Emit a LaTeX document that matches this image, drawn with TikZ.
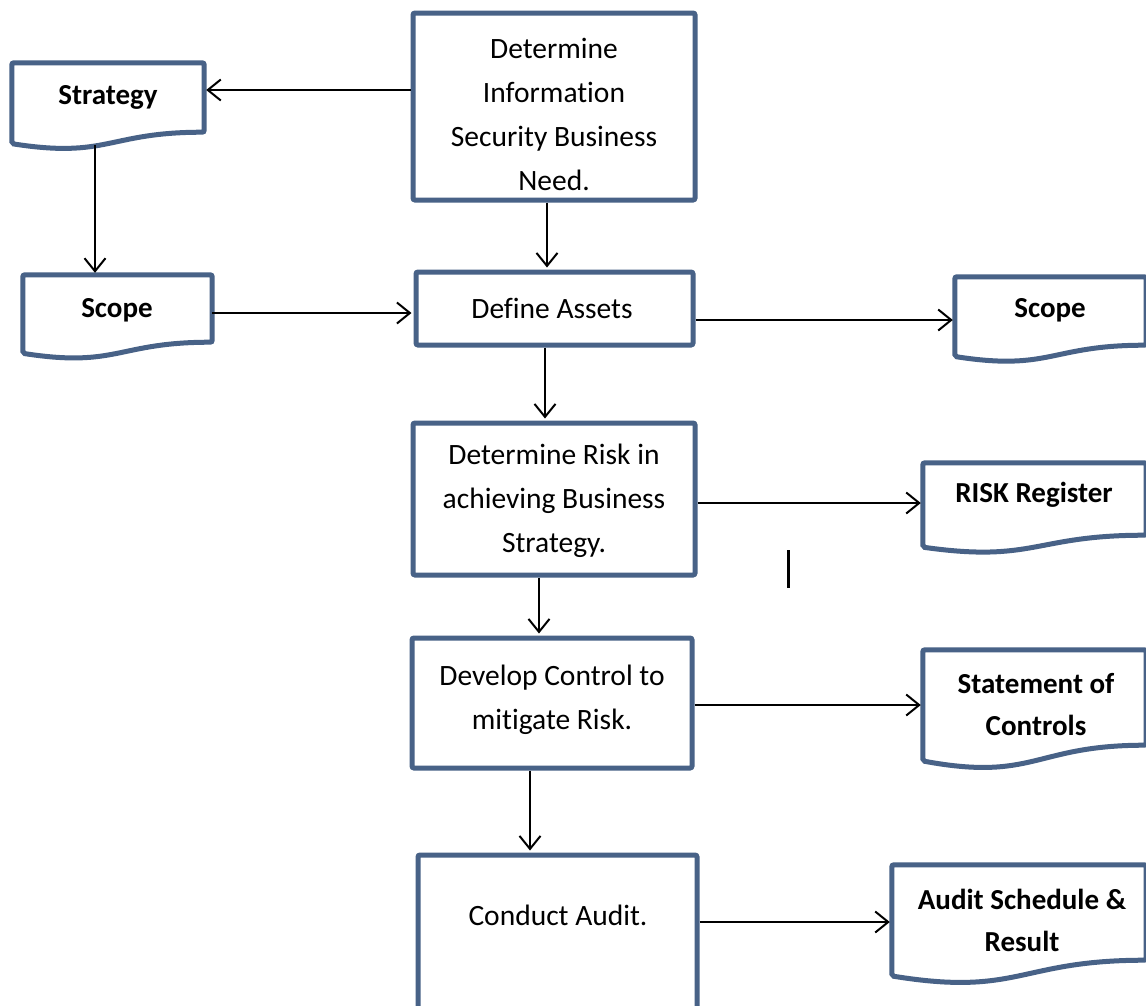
\documentclass[tikz,border=0pt]{standalone}
\usepackage{fontspec}
\setmainfont{Carlito}[Ligatures={NoCommon}, RawFeature={-liga;-clig;-dlig}]
\usetikzlibrary{arrows.meta,calc}
\definecolor{boxblue}{RGB}{72,98,135}
\tikzset{
  procbox/.style={draw=boxblue, line width=5pt, rounded corners=2pt, fill=white, inner sep=0pt},
  docarea/.style={inner sep=0pt},
  docline/.style={draw=boxblue, line width=5pt, rounded corners=2pt, fill=white},
  plaintext/.style={align=center, inner sep=0pt, font=\fontsize{29.5}{44}\selectfont},
  boldtext/.style={align=center, inner sep=0pt, font=\fontsize{29}{42}\selectfont\bfseries},
  arr/.style={draw=black, line width=2pt, -{Straight Barb[length=13pt,width=21pt,line width=2pt]}, shorten >=2pt},
}
\newcommand\docoutline[1]{%
  \draw[docline] let \p1=(#1.north west), \p2=(#1.south east) in
    (\x1,\y1) -- (\x2,\y1) -- (\x2,\y2)
    .. controls ({0.5*\x1+0.5*\x2},\y2) and ({0.5*\x1+0.5*\x2},{\y2-0.381*(\y1-\y2)}) ..
    (\x1,{\y2-0.165*(\y1-\y2)}) -- cycle;}
\begin{document}
\begin{tikzpicture}[x=1pt,y=-1pt]
\fill[white] (0,0) rectangle (1146,1005);
\useasboundingbox (0,0) rectangle (1146,1005);

% process boxes
\node[procbox, minimum width=282pt, minimum height=187pt] (need) at (554,106.5) {};
\node[procbox, minimum width=277pt, minimum height=73pt] (assets) at (554.5,308.5) {};
\node[procbox, minimum width=282pt, minimum height=152pt] (risk) at (554,499) {};
\node[procbox, minimum width=280pt, minimum height=130pt] (develop) at (552,703) {};
\node[procbox, minimum width=279pt, minimum height=157pt] (audit) at (557.5,933.5) {};

% document areas (rectangular part)
\node[docarea, minimum width=192pt, minimum height=69pt] (strat) at (108,97.5) {};
\node[docarea, minimum width=189pt, minimum height=67pt] (scopeL) at (117.5,308.5) {};
\node[docarea, minimum width=191pt, minimum height=68pt] (scopeR) at (1050.5,311) {};
\node[docarea, minimum width=223pt, minimum height=72pt] (riskreg) at (1034.5,499) {};
\node[docarea, minimum width=223pt, minimum height=95pt] (stmt) at (1034.5,697.5) {};
\node[docarea, minimum width=254pt, minimum height=95pt] (auditdoc) at (1019,912.5) {};
\docoutline{strat}
\docoutline{scopeL}
\docoutline{scopeR}
\docoutline{riskreg}
\docoutline{stmt}
\docoutline{auditdoc}

% texts
\node[plaintext] (needT) at (554,114) {Determine\\Information\\Security Business\\Need.};
\node[plaintext] (assetsT) at (552,308) {Define Assets};
\node[plaintext] (riskT) at (554,501) {Determine Risk in\\achieving Business\\Strategy.};
\node[plaintext] (developT) at (552,700) {Develop Control to\\mitigate Risk.};
\node[plaintext] (auditT) at (558,915) {Conduct Audit.};
\node[boldtext] (stratT) at (108,97) {Strategy};
\node[boldtext] (scopeLT) at (117,310) {Scope};
\node[boldtext] (scopeRT) at (1050,310) {Scope};
\node[boldtext] (riskregT) at (1034,495) {RISK Register};
\node[boldtext] (stmtT) at (1036,705) {Statement of\\Controls};
\node[boldtext] (auditdocT) at (1022,920) {Audit Schedule \&\\Result};

% connectors
\coordinate (c1) at ([yshift=16.5pt]need.west);
\draw[arr] (c1) -- (c1 -| strat.east);
\coordinate (c2) at ([xshift=-13pt,yshift=-13pt]strat.south);
\draw[arr] (c2) -- (c2 |- scopeL.north);
\coordinate (c3) at ([xshift=-7pt]need.south);
\draw[arr] (c3) -- (c3 |- assets.north);
\coordinate (c4) at ([yshift=-4.5pt]scopeL.east);
\draw[arr] (c4) -- (c4 -| assets.west);
\coordinate (c5) at ([yshift=-11.5pt]assets.east);
\draw[arr] (c5) -- (c5 -| scopeR.west);
\coordinate (c6) at ([xshift=-9.5pt]assets.south);
\draw[arr] (c6) -- (c6 |- risk.north);
\coordinate (c7) at ([yshift=-4pt]risk.east);
\draw[arr] (c7) -- (c7 -| riskreg.west);
\coordinate (c8) at ([xshift=-15pt]risk.south);
\draw[arr] (c8) -- (c8 |- develop.north);
\coordinate (c9) at ([yshift=-2pt]develop.east);
\draw[arr] (c9) -- (c9 -| stmt.west);
\coordinate (c10) at ([xshift=-22pt]develop.south);
\draw[arr] (c10) -- (c10 |- audit.north);
\coordinate (c11) at ([yshift=11.5pt]audit.east);
\draw[arr] (c11) -- (c11 -| auditdoc.west);

% stray mark
\draw[line width=3pt] (788.5,550) -- (788.5,588);
\end{tikzpicture}
\end{document}
